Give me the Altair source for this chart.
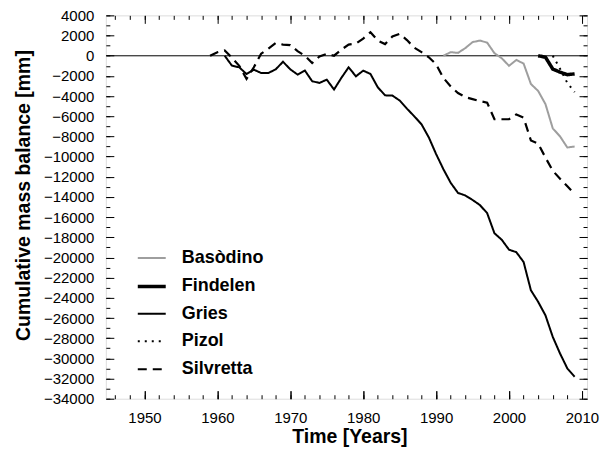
import altair as alt
import pandas as pd

# ---- data ----
glaciers = ["Basòdino", "Findelen", "Gries", "Pizol", "Silvretta"]

basodino_years = list(range(1991, 2010))
basodino = [0, 350, 280, 750, 1350, 1500, 1300, 250, -250, -1000, -420, -780,
            -2800, -3500, -4800, -7200, -8000, -9100, -9000]

findelen_years = list(range(2004, 2010))
findelen = [0, -150, -1320, -1630, -1880, -1800]

gries_years = list(range(1961, 2010))
gries = [0, -990, -1150, -1820, -1380, -1710, -1710, -1350, -600, -1350,
         -1870, -1470, -2530, -2700, -2370, -3350, -2200, -1150, -2040, -1480,
         -1810, -3130, -3930, -3950, -4440, -5250, -6000, -6800, -8100, -9750,
         -11250, -12600, -13600, -13850, -14300, -14800, -15600, -17600, -18240, -19230,
         -19470, -20450, -23250, -24400, -25740, -27870, -29520, -31000, -31820]

pizol_years = list(range(2006, 2010))
pizol = [0, -1300, -2700, -3600]

silvretta_years = list(range(1959, 2010))
silvretta = [0, 350, 530, -200, -1000, -2300, -1150, 200, 700, 1250,
             1100, 1050, 450, 0, -730, -80, 180, 0, 600, 1100,
             1200, 1700, 2330, 1500, 1150, 1900, 2170, 1550, 800, 350,
             -150, -850, -2200, -3050, -3700, -4100, -4300, -4500, -4650, -6300,
             -6300, -6300, -5820, -6150, -8400, -8700, -10100, -11400, -12200, -12950,
             -13710]

x_major = list(range(1950, 2011, 10))
x_minor = list(range(1946, 2011, 2))
y_major = list(range(-34000, 4001, 2000))
y_minor = list(range(-34000, 4001, 1000))

rows = []
for name, yrs, vals in [("Basòdino", basodino_years, basodino),
                        ("Findelen", findelen_years, findelen),
                        ("Gries", gries_years, gries),
                        ("Pizol", pizol_years, pizol),
                        ("Silvretta", silvretta_years, silvretta)]:
    for yv, v in zip(yrs, vals):
        rows.append({"glacier": name, "year": yv, "value": v})
df = pd.DataFrame(rows)

W, H = 482, 384
FONT = "Liberation Sans"
xs = alt.Scale(domain=[1944.7, 2010.7], nice=False, zero=False)
ys = alt.Scale(domain=[-34000, 4000], nice=False, zero=False)

colors = ["#9e9e9e", "black", "black", "black", "black"]
dashes = [[1, 0], [1, 0], [1, 0], [2, 5], [9, 6]]
widths = [2, 3.5, 2, 2, 2.2]

main = alt.Chart(df).mark_line(clip=True).encode(
    x=alt.X("year:Q", scale=xs, axis=alt.Axis(
        orient="bottom", values=x_major, format="d", ticks=False, tickSize=0,
        domain=False, grid=False, labelFontSize=15, labelFont=FONT,
        labelPadding=19, labelBaseline="middle", labelColor="black",
        title="Time [Years]", titleFont=FONT, titleFontSize=19.5, titleFontWeight="bold",
        titleX=244, titleY=38, titleBaseline="middle", titleColor="black")),
    y=alt.Y("value:Q", scale=ys, axis=alt.Axis(
        orient="left", values=y_major, format="d", ticks=False, tickSize=0,
        domain=False, grid=False, labelFontSize=15, labelFont=FONT,
        labelPadding=12, labelColor="black",
        title="Cumulative mass balance [mm]", titleFont=FONT, titleFontSize=19.5,
        titleFontWeight="bold", titleX=-82, titleY=180, titleBaseline="middle",
        titleColor="black")),
    color=alt.Color("glacier:N", scale=alt.Scale(domain=glaciers, range=colors),
                    legend=alt.Legend(title=None, orient="none", legendX=30, legendY=228,
                                      symbolType="stroke", symbolSize=784, labelFont=FONT,
                                      labelFontSize=18, labelFontWeight="bold",
                                      labelColor="black", labelOffset=14, rowPadding=3.5,
                                      padding=0)),
    strokeDash=alt.StrokeDash("glacier:N", scale=alt.Scale(domain=glaciers, range=dashes)),
    strokeWidth=alt.StrokeWidth("glacier:N", scale=alt.Scale(type="ordinal", domain=glaciers,
                                                             range=widths)),
)


def tick_layer(x_axis, y_axis):
    return alt.Chart(df).mark_point(opacity=0).encode(
        x=alt.X("year:Q", scale=xs, axis=x_axis),
        y=alt.Y("value:Q", scale=ys, axis=y_axis),
    )


def ax(orient, values, size, offset):
    return alt.Axis(orient=orient, values=values, tickSize=size, offset=offset,
                    labels=False, domain=False, grid=False, title=None,
                    tickColor="black", tickWidth=1)


zero_layer = tick_layer(
    ax("top", x_major, 8, -H),
    alt.Axis(orient="right", values=[0], ticks=False, labels=False, domain=False,
             grid=True, gridColor="black", gridOpacity=1, gridWidth=1, title=None),
)
l2 = tick_layer(ax("top", x_minor, 4, -H), ax("right", y_major, 8, -W))
l3 = tick_layer(ax("bottom", x_major, 8, -H), ax("right", y_minor, 4, -W))
l4 = tick_layer(ax("bottom", x_minor, 4, -H), ax("left", y_major, 8, -W))
l5 = tick_layer(ax("top", x_major, 8, -H), ax("left", y_minor, 4, -W))

chart = alt.layer(zero_layer, l2, l3, l4, l5, main).resolve_axis(
    x="independent", y="independent"
).properties(
    width=W, height=H,
    padding={"left": 98, "top": 7, "right": 18, "bottom": 54},
    autosize=alt.AutoSizeParams(type="none"),
).configure_view(
    stroke="black", strokeWidth=1.5
).configure(background="white")

chart.save("out.html", embed_options={"renderer": "svg", "actions": False})
